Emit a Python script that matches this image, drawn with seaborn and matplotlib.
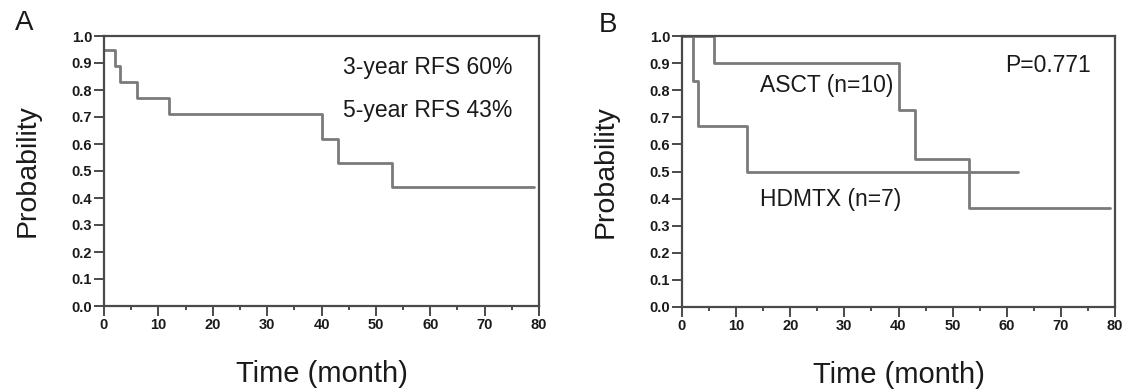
import numpy as np
import pandas as pd
import matplotlib
matplotlib.use("Agg")
import matplotlib.pyplot as plt
import seaborn as sns
from matplotlib.ticker import MultipleLocator

# ========================
# DATA (Kaplan-Meier steps)
# ========================
rfs_time = [0, 2, 3, 6, 12, 40, 43, 53, 79]
rfs_prob = [0.95, 0.89, 0.83, 0.77, 0.71, 0.62, 0.53, 0.44, 0.44]

asct_time = [0, 6, 40, 43, 53, 79]
asct_prob = [1.0, 0.9, 0.727, 0.545, 0.364, 0.364]

hdmtx_time = [0, 2, 3, 12, 62]
hdmtx_prob = [1.0, 0.833, 0.667, 0.5, 0.5]

x_ticks = [0, 10, 20, 30, 40, 50, 60, 70, 80]
y_ticks = [0.0, 0.1, 0.2, 0.3, 0.4, 0.5, 0.6, 0.7, 0.8, 0.9, 1.0]

sns.set_style("white")
plt.rcParams['font.family'] = ['Liberation Sans', 'DejaVu Sans']

LINE = '#7a7a7a'
SPINE = '#4a4a4a'
TEXT = '#1a1a1a'

fig = plt.figure(figsize=(11.26, 3.90), dpi=100)
ax_a = fig.add_axes([104 / 1126, 1 - 306 / 390, 435 / 1126, 270 / 390])
ax_b = fig.add_axes([682 / 1126, 1 - 307 / 390, 433 / 1126, 271 / 390])


def style_axis(ax):
    ax.set_xlim(0, 80)
    ax.set_ylim(0, 1.0)
    ax.set_xticks(x_ticks)
    ax.set_yticks(y_ticks)
    ax.xaxis.set_minor_locator(MultipleLocator(5))
    ax.set_xticklabels([str(t) for t in x_ticks])
    ax.set_yticklabels([f"{t:.1f}" for t in y_ticks])
    for s in ax.spines.values():
        s.set_visible(True)
        s.set_color(SPINE)
        s.set_linewidth(1.6)
    ax.tick_params(axis='both', which='major', direction='out', length=7,
                   width=1.4, color=SPINE, labelsize=10.5, labelcolor=TEXT,
                   pad=1.5, bottom=True, left=True)
    ax.tick_params(axis='x', which='minor', direction='out', length=3,
                   width=1.4, color=SPINE, bottom=True)
    for lab in ax.get_xticklabels() + ax.get_yticklabels():
        lab.set_fontweight('bold')
    ax.set_xlabel('Time (month)', fontsize=21, color=TEXT, labelpad=20)
    ax.set_ylabel('Probability', fontsize=20.5, color=TEXT, labelpad=22)


# Panel A
df_a = pd.DataFrame({'time': rfs_time, 'prob': rfs_prob})
sns.lineplot(data=df_a, x='time', y='prob', ax=ax_a, drawstyle='steps-post',
             color=LINE, linewidth=2.0)
style_axis(ax_a)
ax_a.text(44, 0.883, '3-year RFS 60%', fontsize=16.5, color=TEXT, va='center')
ax_a.text(44, 0.725, '5-year RFS 43%', fontsize=16.5, color=TEXT, va='center')

# Panel B
df_b = pd.concat([
    pd.DataFrame({'time': asct_time, 'prob': asct_prob, 'group': 'ASCT'}),
    pd.DataFrame({'time': hdmtx_time, 'prob': hdmtx_prob, 'group': 'HDMTX'}),
])
sns.lineplot(data=df_b, x='time', y='prob', hue='group', ax=ax_b,
             drawstyle='steps-post', palette=[LINE, LINE], linewidth=2.0,
             legend=False)
style_axis(ax_b)
ax_b.text(59.7, 0.891, 'P=0.771', fontsize=16.5, color=TEXT, va='center')
ax_b.text(14.5, 0.817, 'ASCT (n=10)', fontsize=16.5, color=TEXT, va='center')
ax_b.text(14.5, 0.396, 'HDMTX (n=7)', fontsize=16.5, color=TEXT, va='center')

fig.text(24 / 1126, 1 - 23 / 390, 'A', fontsize=20, color=TEXT,
         ha='center', va='center')
fig.text(608 / 1126, 1 - 25 / 390, 'B', fontsize=20, color=TEXT,
         ha='center', va='center')

fig.savefig('out.png', dpi=100)
